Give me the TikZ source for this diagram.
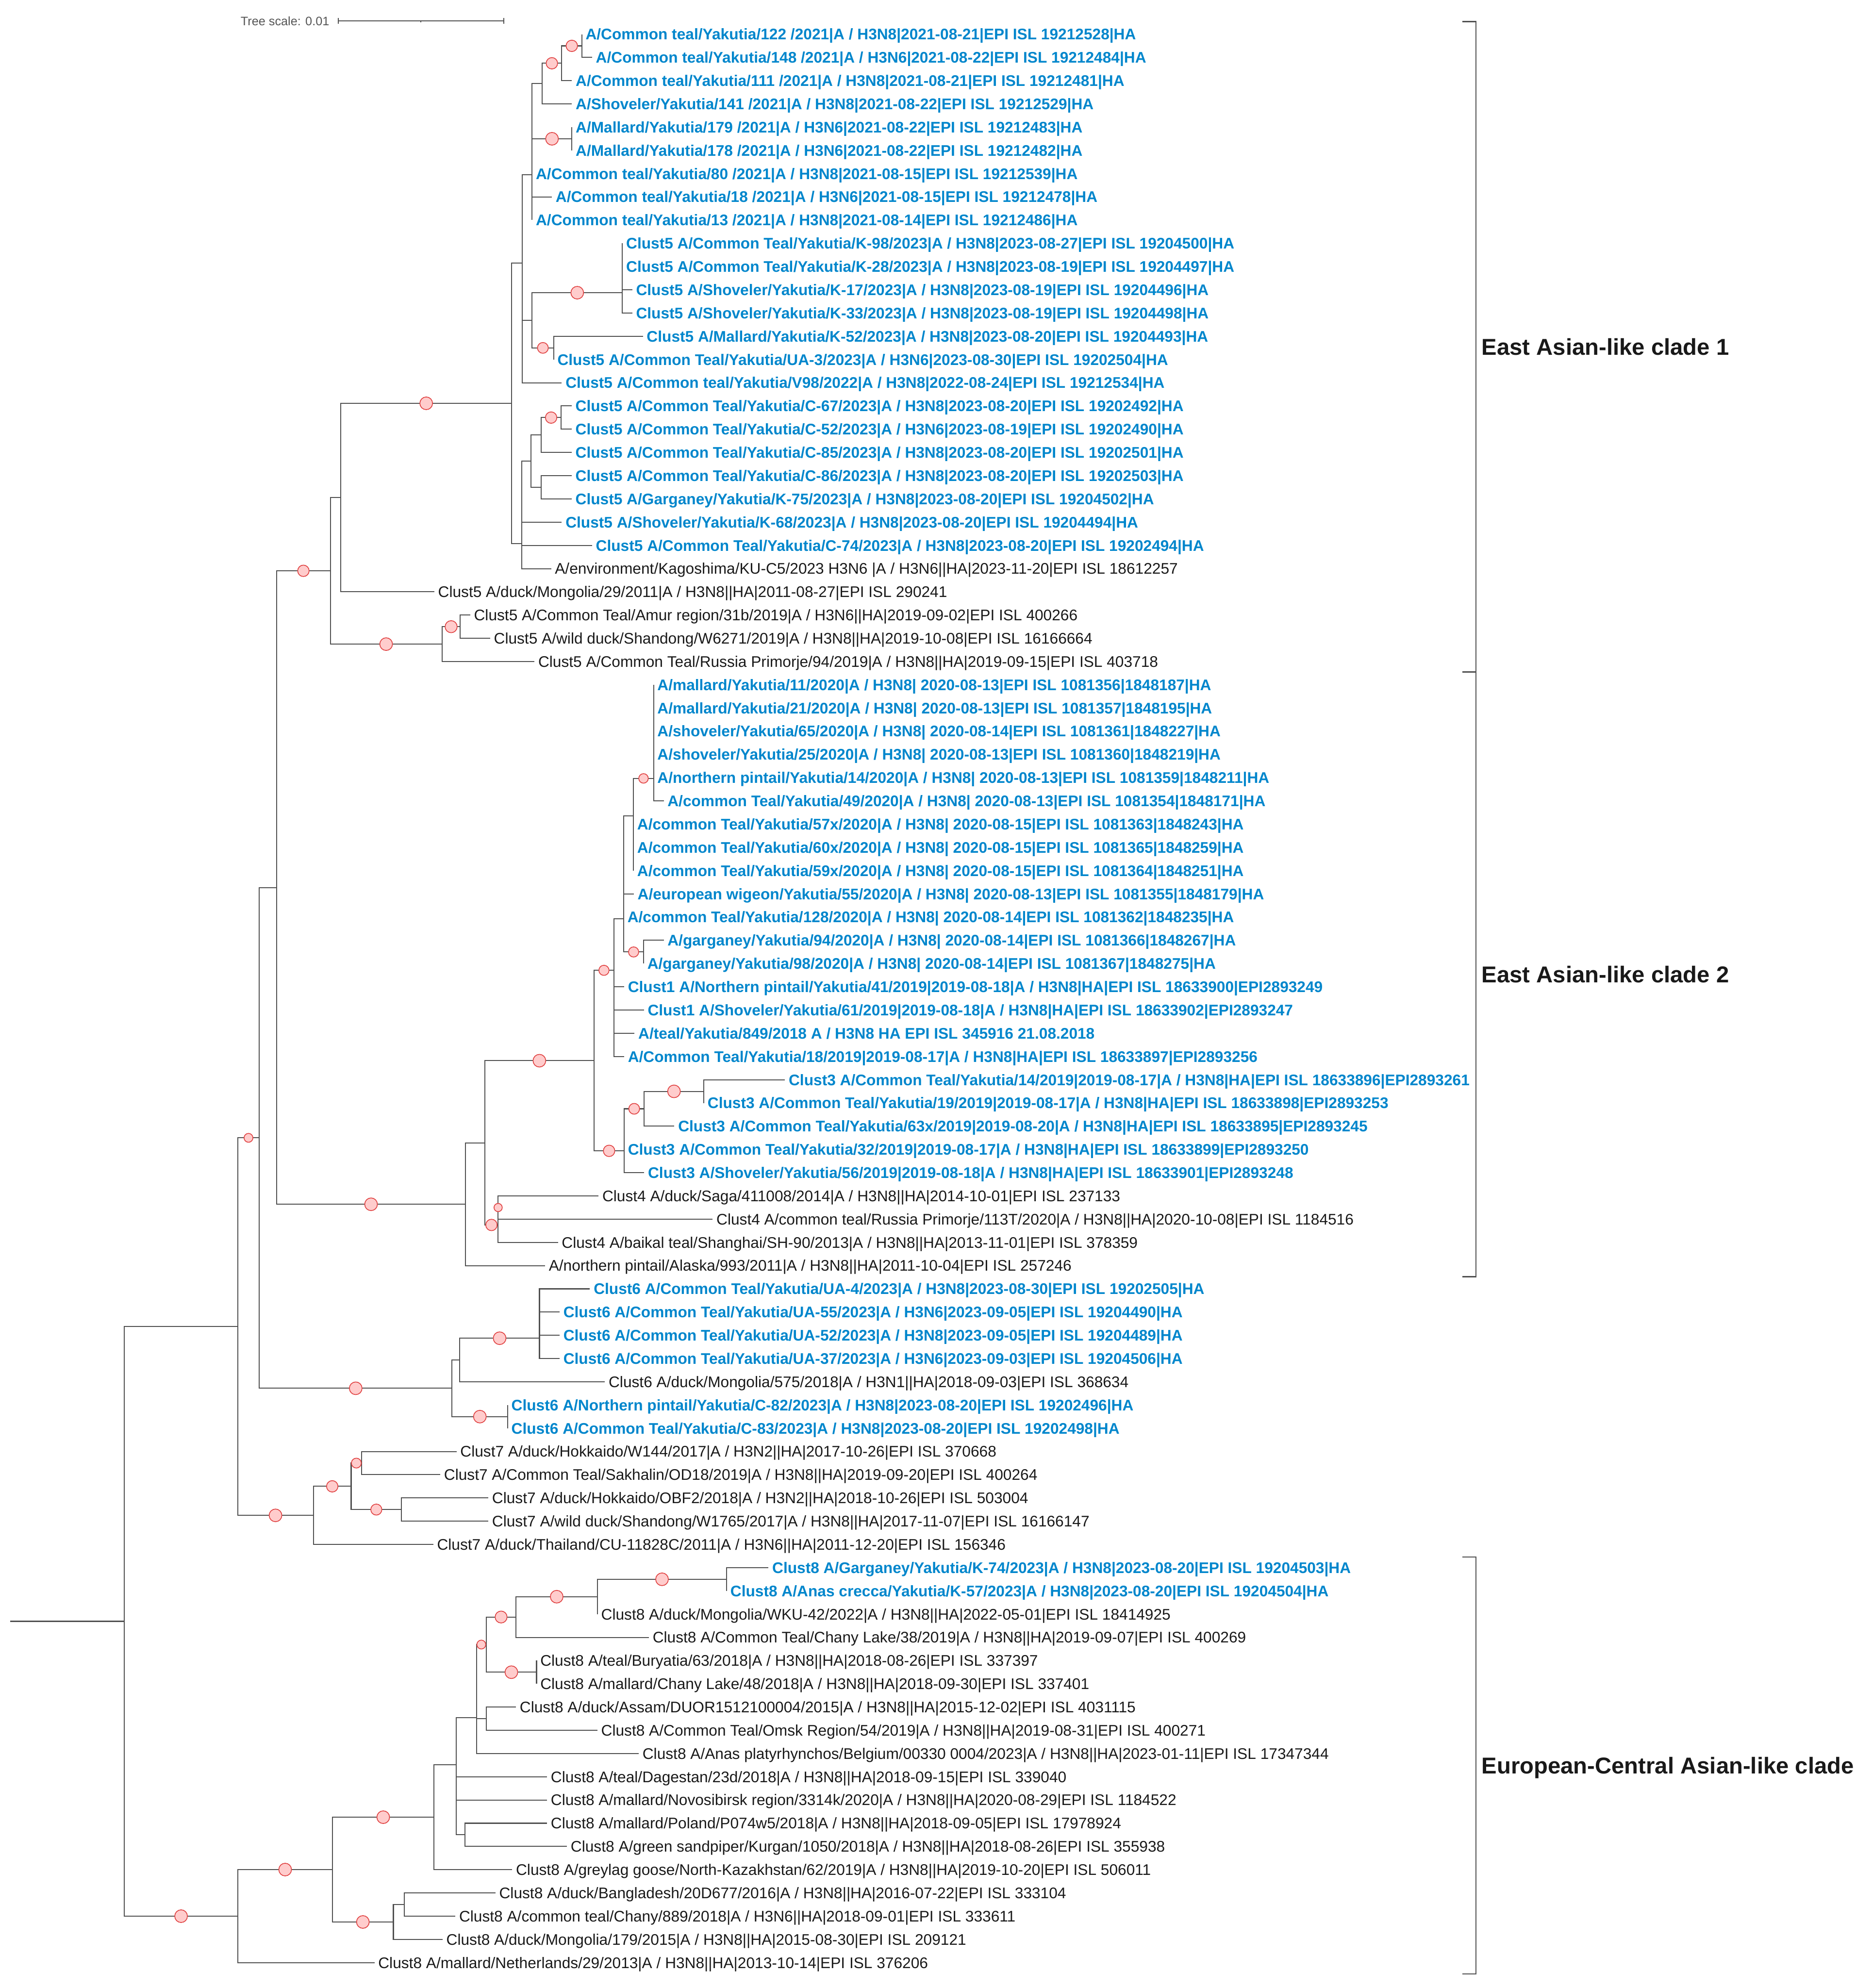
\documentclass[tikz,border=0pt]{standalone}
\usepackage{fontspec}
\setmainfont{Liberation Sans}
\usepackage{tikz}
\usetikzlibrary{calc}
\definecolor{yakutblue}{RGB}{0,134,204}
\definecolor{branchgray}{RGB}{80,80,80}
\definecolor{bootred}{RGB}{224,64,64}
\definecolor{bootpink}{RGB}{255,204,204}
\definecolor{labelink}{RGB}{25,25,25}
\definecolor{scalegray}{RGB}{85,85,85}

\begin{document}
\begin{tikzpicture}[x=0.02cm, y=-0.3665cm,
    branch/.style={draw=branchgray, line width=0.45pt},
    boot/.style={circle, draw=bootred, fill=bootpink, line width=0.35pt, inner sep=0pt, minimum size=#1*0.02cm},
    leafk/.style={anchor=west, inner xsep=1.5pt, inner ysep=0pt, text height=4.94pt, text depth=0pt,
        font=\fontsize{6.9}{8}\selectfont, text=labelink},
    leafb/.style={leafk, font=\fontsize{6.9}{8}\selectfont\bfseries, text=yakutblue},
    cladelabel/.style={anchor=west, inner sep=0pt, text height=7.4pt, text depth=0pt,
        font=\fontsize{10.3}{12}\selectfont\bfseries, text=labelink},
    bracket/.style={draw=branchgray, line width=0.5pt}]

  \useasboundingbox (0,-0.4734) rectangle (1476,85.093);

  % scale bar
  \node[anchor=east, inner sep=0pt, text height=3.9pt, text depth=0pt, font=\fontsize{5.5}{6}\selectfont, text=scalegray]
      (treescale) at (260,0.438) {Tree scale: 0.01};
  \draw[branch] (266.7,0.3) -- (266.7,0.56) (266.7,0.427) -- (397.1,0.427) (397.1,0.3) -- (397.1,0.56);
  \draw[branch] (332,0.427) -- (332,0.49);

  % leaves
  \node[leafb] (l1) at (458.8,1) {A/Common teal/Yakutia/122 /2021|A / H3N8|2021-08-21|EPI ISL 19212528|HA};
  \node[leafb] (l2) at (466.9,2) {A/Common teal/Yakutia/148 /2021|A / H3N6|2021-08-22|EPI ISL 19212484|HA};
  \node[leafb] (l3) at (451,3) {A/Common teal/Yakutia/111 /2021|A / H3N8|2021-08-21|EPI ISL 19212481|HA};
  \node[leafb] (l4) at (451,4) {A/Shoveler/Yakutia/141 /2021|A / H3N8|2021-08-22|EPI ISL 19212529|HA};
  \node[leafb] (l5) at (451,5) {A/Mallard/Yakutia/179 /2021|A / H3N6|2021-08-22|EPI ISL 19212483|HA};
  \node[leafb] (l6) at (451,6) {A/Mallard/Yakutia/178 /2021|A / H3N6|2021-08-22|EPI ISL 19212482|HA};
  \node[leafb] (l7) at (419.6,7) {A/Common teal/Yakutia/80 /2021|A / H3N8|2021-08-15|EPI ISL 19212539|HA};
  \node[leafb] (l8) at (435.2,8) {A/Common teal/Yakutia/18 /2021|A / H3N6|2021-08-15|EPI ISL 19212478|HA};
  \node[leafb] (l9) at (419.6,9) {A/Common teal/Yakutia/13 /2021|A / H3N8|2021-08-14|EPI ISL 19212486|HA};
  \node[leafb] (l10) at (490.8,10) {Clust5 A/Common Teal/Yakutia/K-98/2023|A / H3N8|2023-08-27|EPI ISL 19204500|HA};
  \node[leafb] (l11) at (490.8,11) {Clust5 A/Common Teal/Yakutia/K-28/2023|A / H3N8|2023-08-19|EPI ISL 19204497|HA};
  \node[leafb] (l12) at (498.6,12) {Clust5 A/Shoveler/Yakutia/K-17/2023|A / H3N8|2023-08-19|EPI ISL 19204496|HA};
  \node[leafb] (l13) at (498.6,13) {Clust5 A/Shoveler/Yakutia/K-33/2023|A / H3N8|2023-08-19|EPI ISL 19204498|HA};
  \node[leafb] (l14) at (507,14) {Clust5 A/Mallard/Yakutia/K-52/2023|A / H3N8|2023-08-20|EPI ISL 19204493|HA};
  \node[leafb] (l15) at (436.6,15) {Clust5 A/Common Teal/Yakutia/UA-3/2023|A / H3N6|2023-08-30|EPI ISL 19202504|HA};
  \node[leafb] (l16) at (443,16) {Clust5 A/Common teal/Yakutia/V98/2022|A / H3N8|2022-08-24|EPI ISL 19212534|HA};
  \node[leafb] (l17) at (450.8,17) {Clust5 A/Common Teal/Yakutia/C-67/2023|A / H3N8|2023-08-20|EPI ISL 19202492|HA};
  \node[leafb] (l18) at (450.8,18) {Clust5 A/Common Teal/Yakutia/C-52/2023|A / H3N6|2023-08-19|EPI ISL 19202490|HA};
  \node[leafb] (l19) at (450.8,19) {Clust5 A/Common Teal/Yakutia/C-85/2023|A / H3N8|2023-08-20|EPI ISL 19202501|HA};
  \node[leafb] (l20) at (450.8,20) {Clust5 A/Common Teal/Yakutia/C-86/2023|A / H3N8|2023-08-20|EPI ISL 19202503|HA};
  \node[leafb] (l21) at (450.8,21) {Clust5 A/Garganey/Yakutia/K-75/2023|A / H3N8|2023-08-20|EPI ISL 19204502|HA};
  \node[leafb] (l22) at (443,22) {Clust5 A/Shoveler/Yakutia/K-68/2023|A / H3N8|2023-08-20|EPI ISL 19204494|HA};
  \node[leafb] (l23) at (466.9,23) {Clust5 A/Common Teal/Yakutia/C-74/2023|A / H3N8|2023-08-20|EPI ISL 19202494|HA};
  \node[leafk] (l24) at (434.6,24) {A/environment/Kagoshima/KU-C5/2023 H3N6 |A / H3N6||HA|2023-11-20|EPI ISL 18612257};
  \node[leafk] (l25) at (342.5,25) {Clust5 A/duck/Mongolia/29/2011|A / H3N8||HA|2011-08-27|EPI ISL 290241};
  \node[leafk] (l26) at (370.8,26) {Clust5 A/Common Teal/Amur region/31b/2019|A / H3N6||HA|2019-09-02|EPI ISL 400266};
  \node[leafk] (l27) at (386.5,27) {Clust5 A/wild duck/Shandong/W6271/2019|A / H3N8||HA|2019-10-08|EPI ISL 16166664};
  \node[leafk] (l28) at (421.5,28) {Clust5 A/Common Teal/Russia Primorje/94/2019|A / H3N8||HA|2019-09-15|EPI ISL 403718};
  \node[leafb] (l29) at (515.4,29) {A/mallard/Yakutia/11/2020|A / H3N8| 2020-08-13|EPI ISL 1081356|1848187|HA};
  \node[leafb] (l30) at (515.4,30) {A/mallard/Yakutia/21/2020|A / H3N8| 2020-08-13|EPI ISL 1081357|1848195|HA};
  \node[leafb] (l31) at (515.4,31) {A/shoveler/Yakutia/65/2020|A / H3N8| 2020-08-14|EPI ISL 1081361|1848227|HA};
  \node[leafb] (l32) at (515.4,32) {A/shoveler/Yakutia/25/2020|A / H3N8| 2020-08-13|EPI ISL 1081360|1848219|HA};
  \node[leafb] (l33) at (515.4,33) {A/northern pintail/Yakutia/14/2020|A / H3N8| 2020-08-13|EPI ISL 1081359|1848211|HA};
  \node[leafb] (l34) at (523.4,34) {A/common Teal/Yakutia/49/2020|A / H3N8| 2020-08-13|EPI ISL 1081354|1848171|HA};
  \node[leafb] (l35) at (499.5,35) {A/common Teal/Yakutia/57x/2020|A / H3N8| 2020-08-15|EPI ISL 1081363|1848243|HA};
  \node[leafb] (l36) at (499.5,36) {A/common Teal/Yakutia/60x/2020|A / H3N8| 2020-08-15|EPI ISL 1081365|1848259|HA};
  \node[leafb] (l37) at (499.5,37) {A/common Teal/Yakutia/59x/2020|A / H3N8| 2020-08-15|EPI ISL 1081364|1848251|HA};
  \node[leafb] (l38) at (499.8,38) {A/european wigeon/Yakutia/55/2020|A / H3N8| 2020-08-13|EPI ISL 1081355|1848179|HA};
  \node[leafb] (l39) at (491.8,39) {A/common Teal/Yakutia/128/2020|A / H3N8| 2020-08-14|EPI ISL 1081362|1848235|HA};
  \node[leafb] (l40) at (523.4,40) {A/garganey/Yakutia/94/2020|A / H3N8| 2020-08-14|EPI ISL 1081366|1848267|HA};
  \node[leafb] (l41) at (507.5,41) {A/garganey/Yakutia/98/2020|A / H3N8| 2020-08-14|EPI ISL 1081367|1848275|HA};
  \node[leafb] (l42) at (492.2,42) {Clust1 A/Northern pintail/Yakutia/41/2019|2019-08-18|A / H3N8|HA|EPI ISL 18633900|EPI2893249};
  \node[leafb] (l43) at (507.8,43) {Clust1 A/Shoveler/Yakutia/61/2019|2019-08-18|A / H3N8|HA|EPI ISL 18633902|EPI2893247};
  \node[leafb] (l44) at (500.4,44) {A/teal/Yakutia/849/2018 A / H3N8 HA EPI ISL 345916 21.08.2018};
  \node[leafb] (l45) at (492.2,45) {A/Common Teal/Yakutia/18/2019|2019-08-17|A / H3N8|HA|EPI ISL 18633897|EPI2893256};
  \node[leafb] (l46) at (619,46) {Clust3 A/Common Teal/Yakutia/14/2019|2019-08-17|A / H3N8|HA|EPI ISL 18633896|EPI2893261};
  \node[leafb] (l47) at (555,47) {Clust3 A/Common Teal/Yakutia/19/2019|2019-08-17|A / H3N8|HA|EPI ISL 18633898|EPI2893253};
  \node[leafb] (l48) at (531.8,48) {Clust3 A/Common Teal/Yakutia/63x/2019|2019-08-20|A / H3N8|HA|EPI ISL 18633895|EPI2893245};
  \node[leafb] (l49) at (492.2,49) {Clust3 A/Common Teal/Yakutia/32/2019|2019-08-17|A / H3N8|HA|EPI ISL 18633899|EPI2893250};
  \node[leafb] (l50) at (508,50) {Clust3 A/Shoveler/Yakutia/56/2019|2019-08-18|A / H3N8|HA|EPI ISL 18633901|EPI2893248};
  \node[leafk] (l51) at (472,51) {Clust4 A/duck/Saga/411008/2014|A / H3N8||HA|2014-10-01|EPI ISL 237133};
  \node[leafk] (l52) at (562,52) {Clust4 A/common teal/Russia Primorje/113T/2020|A / H3N8||HA|2020-10-08|EPI ISL 1184516};
  \node[leafk] (l53) at (440,53) {Clust4 A/baikal teal/Shanghai/SH-90/2013|A / H3N8||HA|2013-11-01|EPI ISL 378359};
  \node[leafk] (l54) at (429.8,54) {A/northern pintail/Alaska/993/2011|A / H3N8||HA|2011-10-04|EPI ISL 257246};
  \node[leafb] (l55) at (465.2,55) {Clust6 A/Common Teal/Yakutia/UA-4/2023|A / H3N8|2023-08-30|EPI ISL 19202505|HA};
  \node[leafb] (l56) at (441.3,56) {Clust6 A/Common Teal/Yakutia/UA-55/2023|A / H3N6|2023-09-05|EPI ISL 19204490|HA};
  \node[leafb] (l57) at (441.3,57) {Clust6 A/Common Teal/Yakutia/UA-52/2023|A / H3N8|2023-09-05|EPI ISL 19204489|HA};
  \node[leafb] (l58) at (441.3,58) {Clust6 A/Common Teal/Yakutia/UA-37/2023|A / H3N6|2023-09-03|EPI ISL 19204506|HA};
  \node[leafk] (l59) at (477,59) {Clust6 A/duck/Mongolia/575/2018|A / H3N1||HA|2018-09-03|EPI ISL 368634};
  \node[leafb] (l60) at (400.3,60) {Clust6 A/Northern pintail/Yakutia/C-82/2023|A / H3N8|2023-08-20|EPI ISL 19202496|HA};
  \node[leafb] (l61) at (400.3,61) {Clust6 A/Common Teal/Yakutia/C-83/2023|A / H3N8|2023-08-20|EPI ISL 19202498|HA};
  \node[leafk] (l62) at (360,62) {Clust7 A/duck/Hokkaido/W144/2017|A / H3N2||HA|2017-10-26|EPI ISL 370668};
  \node[leafk] (l63) at (347.2,63) {Clust7 A/Common Teal/Sakhalin/OD18/2019|A / H3N8||HA|2019-09-20|EPI ISL 400264};
  \node[leafk] (l64) at (385.1,64) {Clust7 A/duck/Hokkaido/OBF2/2018|A / H3N2||HA|2018-10-26|EPI ISL 503004};
  \node[leafk] (l65) at (385.1,65) {Clust7 A/wild duck/Shandong/W1765/2017|A / H3N8||HA|2017-11-07|EPI ISL 16166147};
  \node[leafk] (l66) at (341.7,66) {Clust7 A/duck/Thailand/CU-11828C/2011|A / H3N6||HA|2011-12-20|EPI ISL 156346};
  \node[leafb] (l67) at (606,67) {Clust8 A/Garganey/Yakutia/K-74/2023|A / H3N8|2023-08-20|EPI ISL 19204503|HA};
  \node[leafb] (l68) at (573,68) {Clust8 A/Anas crecca/Yakutia/K-57/2023|A / H3N8|2023-08-20|EPI ISL 19204504|HA};
  \node[leafk] (l69) at (471.1,69) {Clust8 A/duck/Mongolia/WKU-42/2022|A / H3N8||HA|2022-05-01|EPI ISL 18414925};
  \node[leafk] (l70) at (511.7,70) {Clust8 A/Common Teal/Chany Lake/38/2019|A / H3N8||HA|2019-09-07|EPI ISL 400269};
  \node[leafk] (l71) at (423.1,71) {Clust8 A/teal/Buryatia/63/2018|A / H3N8||HA|2018-08-26|EPI ISL 337397};
  \node[leafk] (l72) at (423.1,72) {Clust8 A/mallard/Chany Lake/48/2018|A / H3N8||HA|2018-09-30|EPI ISL 337401};
  \node[leafk] (l73) at (406.9,73) {Clust8 A/duck/Assam/DUOR1512100004/2015|A / H3N8||HA|2015-12-02|EPI ISL 4031115};
  \node[leafk] (l74) at (471.1,74) {Clust8 A/Common Teal/Omsk Region/54/2019|A / H3N8||HA|2019-08-31|EPI ISL 400271};
  \node[leafk] (l75) at (503.7,75) {Clust8 A/Anas platyrhynchos/Belgium/00330 0004/2023|A / H3N8||HA|2023-01-11|EPI ISL 17347344};
  \node[leafk] (l76) at (431.4,76) {Clust8 A/teal/Dagestan/23d/2018|A / H3N8||HA|2018-09-15|EPI ISL 339040};
  \node[leafk] (l77) at (431.4,77) {Clust8 A/mallard/Novosibirsk region/3314k/2020|A / H3N8||HA|2020-08-29|EPI ISL 1184522};
  \node[leafk] (l78) at (431.4,78) {Clust8 A/mallard/Poland/P074w5/2018|A / H3N8||HA|2018-09-05|EPI ISL 17978924};
  \node[leafk] (l79) at (447.1,79) {Clust8 A/green sandpiper/Kurgan/1050/2018|A / H3N8||HA|2018-08-26|EPI ISL 355938};
  \node[leafk] (l80) at (403.9,80) {Clust8 A/greylag goose/North-Kazakhstan/62/2019|A / H3N8||HA|2019-10-20|EPI ISL 506011};
  \node[leafk] (l81) at (390.7,81) {Clust8 A/duck/Bangladesh/20D677/2016|A / H3N8||HA|2016-07-22|EPI ISL 333104};
  \node[leafk] (l82) at (359.1,82) {Clust8 A/common teal/Chany/889/2018|A / H3N6||HA|2018-09-01|EPI ISL 333611};
  \node[leafk] (l83) at (349,83) {Clust8 A/duck/Mongolia/179/2015|A / H3N8||HA|2015-08-30|EPI ISL 209121};
  \node[leafk] (l84) at (295.3,84) {Clust8 A/mallard/Netherlands/29/2013|A / H3N8||HA|2013-10-14|EPI ISL 376206};

  % internal nodes (x in px, y in leaf rows)
  \coordinate (n1) at (458.8,1.5);   \coordinate (n2) at (443,2.25);    \coordinate (n3) at (427.4,3.125);
  \coordinate (n5) at (451,5.5);     \coordinate (n4) at (419.6,7.05);  \coordinate (n7) at (490.8,12.125);
  \coordinate (n9) at (436.6,14.5);  \coordinate (n8) at (419.6,13.3125); \coordinate (n6) at (411.8,10.85);
  \coordinate (n15) at (442.4,17.5); \coordinate (n13) at (426.8,18.25); \coordinate (n14) at (426.8,20.5);
  \coordinate (n12) at (418.7,19.375); \coordinate (n11) at (411.3,22.92); \coordinate (n10) at (403.5,16.885);
  \coordinate (m2) at (268.7,20.94); \coordinate (m4) at (363,26.5);    \coordinate (m3) at (348.5,27.25);
  \coordinate (m1) at (260.5,24.095);
  \coordinate (p1) at (515.4,33.03); \coordinate (p2) at (499.5,34.64); \coordinate (p4) at (507.5,40.5);
  \coordinate (p3) at (491.8,39.08); \coordinate (p5) at (484.1,41.29); \coordinate (p9) at (555,46.5);
  \coordinate (p8) at (508,47.25);   \coordinate (p7) at (492.2,49.06); \coordinate (p6) at (468.4,45.18);
  \coordinate (q1) at (392.8,51.5);  \coordinate (p11) at (392.8,52.25); \coordinate (p10) at (382.3,48.715);
  \coordinate (p12) at (367.2,51.36); \coordinate (t1) at (218,37.73);
  \coordinate (u1) at (425.4,57.125); \coordinate (u2) at (362.6,58.06); \coordinate (u3) at (400.3,60.5);
  \coordinate (u4) at (356.5,59.28); \coordinate (t2) at (204.5,48.5);
  \coordinate (v1) at (285.1,62.5);  \coordinate (v2) at (316.6,64.5);  \coordinate (v3) at (276.9,63.5);
  \coordinate (v4) at (247.1,64.75); \coordinate (t3) at (187.4,56.625);
  \coordinate (r0) at (573,67.5);    \coordinate (r1) at (471.1,68.25); \coordinate (r2) at (406.9,69.125);
  \coordinate (r4) at (423.1,71.5);  \coordinate (r3) at (383.4,70.31); \coordinate (r6) at (383.4,73.5);
  \coordinate (r5) at (375.7,73.45); \coordinate (r9) at (366.8,78.5);  \coordinate (r7) at (359.9,75.48);
  \coordinate (r8) at (342.3,77.74); \coordinate (s4) at (318.9,81.5);  \coordinate (s3) at (310.2,82.25);
  \coordinate (s2) at (262.1,79.995); \coordinate (s1) at (187.6,82);
  \coordinate (root) at (98,69.31);  \coordinate (stem) at (8,69.31);

  % branches
  \draw[branch] (stem) -- (root);
  \foreach \p/\c in {n1/l1.west, n1/l2.west, n2/n1, n2/l3.west, n3/n2, n3/l4.west, n5/l5.west, n5/l6.west,
      n4/n3, n4/n5, n4/l7.west, n4/l8.west, n4/l9.west, n7/l10.west, n7/l11.west, n7/l12.west, n7/l13.west,
      n9/l14.west, n9/l15.west, n8/n7, n8/n9, n6/n4, n6/n8, n6/l16.west, n15/l17.west, n15/l18.west,
      n13/n15, n13/l19.west, n14/l20.west, n14/l21.west, n12/n13, n12/n14,
      n11/n12, n11/l22.west, n11/l23.west, n11/l24.west, n10/n6, n10/n11,
      m2/n10, m2/l25.west, m4/l26.west, m4/l27.west, m3/m4, m3/l28.west, m1/m2, m1/m3,
      p1/l29.west, p1/l30.west, p1/l31.west, p1/l32.west, p1/l33.west, p1/l34.west,
      p2/p1, p2/l35.west, p2/l36.west, p2/l37.west, p4/l40.west, p4/l41.west,
      p3/p2, p3/l38.west, p3/l39.west, p3/p4, p5/p3, p5/l42.west, p5/l43.west, p5/l44.west, p5/l45.west,
      p9/l46.west, p9/l47.west, p8/p9, p8/l48.west, p7/p8, p7/l49.west, p7/l50.west, p6/p5, p6/p7,
      q1/l51.west, q1/l52.west, p11/q1, p11/l53.west, p10/p6, p10/p11, p12/p10, p12/l54.west,
      t1/m1, t1/p12, u1/l55.west, u1/l56.west, u1/l57.west, u1/l58.west, u2/u1, u2/l59.west,
      u3/l60.west, u3/l61.west, u4/u2, u4/u3, t2/t1, t2/u4,
      v1/l62.west, v1/l63.west, v2/l64.west, v2/l65.west, v3/v1, v3/v2, v4/v3, v4/l66.west, t3/t2, t3/v4,
      r0/l67.west, r0/l68.west, r1/r0, r1/l69.west, r2/r1, r2/l70.west, r4/l71.west, r4/l72.west,
      r3/r2, r3/r4, r6/l73.west, r6/l74.west, r5/r3, r5/r6, r5/l75.west,
      r9/l78.west, r9/l79.west, r7/r5, r7/l76.west, r7/l77.west, r7/r9, r8/r7, r8/l80.west,
      s4/l81.west, s4/l82.west, s3/s4, s3/l83.west, s2/r8, s2/s3, s1/s2, s1/l84.west, root/t3, root/s1}
    \draw[branch] (\p) |- (\c);

  % bootstrap circles
  \foreach \p/\c/\d in {n2/n1/9, n3/n2/9, n4/n5/10, n8/n7/10, n8/n9/8.5, n13/n15/9, m2/n10/10, t1/m1/9,
      m1/m3/10, m3/m4/9.5, p2/p1/7.5, p3/p4/8, p6/p5/8, p6/p7/9, p8/p9/10, p7/p8/8.5, p11/q1/6.5,
      p10/p11/9, p10/p6/10, t1/p12/10, u2/u1/10, u4/u3/10, t2/u4/10, t3/t2/7, v3/v1/7.8, v3/v2/8.7,
      v4/v3/9, t3/v4/10, r1/r0/10, r2/r1/10, r3/r2/9.4, r5/r3/7, r3/r4/10, s2/r8/10, s2/s3/10,
      s1/s2/10, root/s1/10}
    \path (\p |- \c) -- (\c) node[midway, boot=\d] {};

  % clade brackets
  \draw[bracket] (1153,0.454) -- (1164,0.454) -- (1164,28.45) -- (1153,28.45);
  \draw[bracket] (1164,28.45) -- (1164,54.48) -- (1153,54.48);
  \draw[bracket] (1153,66.54) -- (1164,66.54) -- (1164,84.49) -- (1153,84.49);
  \node[cladelabel] (clade1) at (1168,14.45) {East Asian-like clade 1};
  \node[cladelabel] (clade2) at (1168,41.46) {East Asian-like clade 2};
  \node[cladelabel] (clade3) at (1168,75.52) {European-Central Asian-like clade};
\end{tikzpicture}
\end{document}
